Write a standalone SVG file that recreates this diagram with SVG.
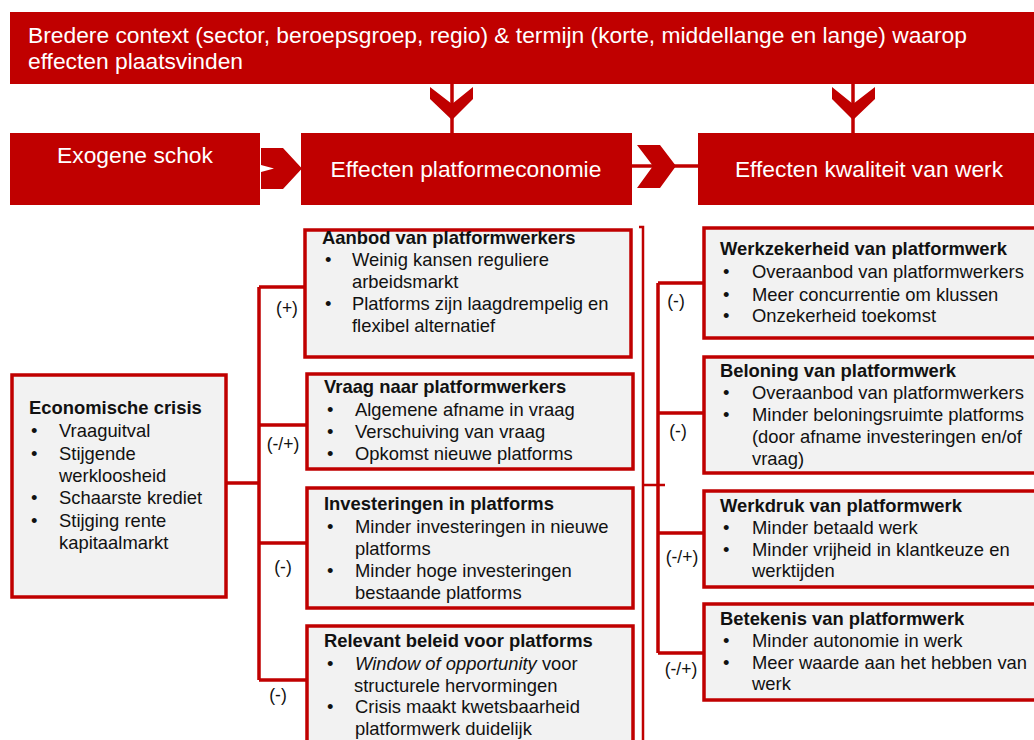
<svg xmlns="http://www.w3.org/2000/svg" width="1034" height="740" viewBox="0 0 1034 740">
  <style>
    .band { fill: #C00000; }
    .hd { font-family: "Liberation Sans", Arial, sans-serif; font-size: 22.8px; fill: #FFFFFF; }
    .box { fill: #F2F2F2; stroke: #C00000; stroke-width: 3.5; }
    .ttl { font-family: "Liberation Sans", Arial, sans-serif; font-size: 18.4px; font-weight: bold; fill: #111111; }
    .txt { font-family: "Liberation Sans", Arial, sans-serif; font-size: 18.4px; fill: #111111; }
    .lbl { font-family: "Liberation Sans", Arial, sans-serif; font-size: 17.5px; fill: #111111; text-anchor: middle; }
    .wire { fill: none; stroke: #C00000; stroke-width: 3.5; }
    .thin { fill: none; stroke: #C00000; stroke-width: 2.5; }
    .chev { fill: #C00000; }
  </style>

  <!-- context banner -->
  <g id="context">
    <rect class="band" x="10" y="12" width="1030" height="72"/>
    <text class="hd" x="28" y="43">Bredere context (sector, beroepsgroep, regio) &amp; termijn (korte, middellange en lange) waarop</text>
    <text class="hd" x="28" y="69">effecten plaatsvinden</text>
  </g>

  <!-- header row -->
  <g id="exogene-schok">
    <rect class="band" x="10" y="133" width="250" height="72"/>
    <text class="hd" x="135" y="163" text-anchor="middle">Exogene schok</text>
  </g>
  <g id="effecten-platformeconomie">
    <rect class="band" x="301" y="133" width="331" height="72"/>
    <text class="hd" x="466" y="177" text-anchor="middle">Effecten platformeconomie</text>
  </g>
  <g id="effecten-kwaliteit">
    <rect class="band" x="698" y="133" width="342" height="72"/>
    <text class="hd" x="869" y="177" text-anchor="middle">Effecten kwaliteit van werk</text>
  </g>

  <!-- connectors -->
  <g id="connectors">
    <!-- banner down into the header boxes -->
    <line class="wire" x1="452" y1="84" x2="452" y2="133" stroke-width="3"/>
    <polygon class="chev" points="430,87 452,104 473,87 473,99 452,120 430,99"/>
    <line class="wire" x1="853" y1="84" x2="853" y2="133" stroke-width="3"/>
    <polygon class="chev" points="832,87 853,104 875,87 875,99 853,120 832,99"/>

    <!-- header chevrons -->
    <polygon class="chev" points="261,148 283,148 302,168.5 283,189 261,189 261,172 274,168.5 261,165"/>
    <line class="wire" x1="632" y1="166" x2="698" y2="166" stroke-width="3"/>
    <polygon class="chev" points="637,145 660,145 676,166 660,188 637,188 653,166"/>

    <!-- crisis tree -->
    <path class="wire" d="M227,483 H259 M259,287 V680 M259,287 H305 M259,425 H307 M259,543 H307 M259,680 H307"/>
    <!-- bracket joining the middle column -->
    <path class="thin" d="M639,227 H643 V742 M643,485 H665"/>
    <!-- quality tree -->
    <path class="wire" d="M658,283 V653 M658,283 H704 M658,413 H704 M658,533 H704 M658,653 H704"/>

    <text class="lbl" x="287" y="314">(+)</text>
    <text class="lbl" x="283" y="450">(-/+)</text>
    <text class="lbl" x="283" y="573">(-)</text>
    <text class="lbl" x="278" y="701">(-)</text>
    <text class="lbl" x="676" y="307">(-)</text>
    <text class="lbl" x="678" y="437">(-)</text>
    <text class="lbl" x="682" y="563">(-/+)</text>
    <text class="lbl" x="681" y="675" font-size="19.5">(-/+)</text>
  </g>

  <!-- shock -->
  <g id="economische-crisis">
    <rect class="box" x="12" y="375" width="214" height="222"/>
    <text class="ttl" x="29" y="414">Economische crisis</text>
    <text class="txt" x="31" y="437">•</text><text class="txt" x="59" y="437">Vraaguitval</text>
    <text class="txt" x="31" y="459.5">•</text><text class="txt" x="59" y="459.5">Stijgende</text>
    <text class="txt" x="59" y="482">werkloosheid</text>
    <text class="txt" x="31" y="504">•</text><text class="txt" x="59" y="504">Schaarste krediet</text>
    <text class="txt" x="31" y="526.5">•</text><text class="txt" x="59" y="526.5">Stijging rente</text>
    <text class="txt" x="59" y="549">kapitaalmarkt</text>
  </g>

  <!-- platform economy effects -->
  <g id="aanbod">
    <rect class="box" x="305" y="230" width="326" height="127"/>
    <text class="ttl" x="322" y="244">Aanbod van platformwerkers</text>
    <text class="txt" x="325" y="266">•</text><text class="txt" x="352" y="266">Weinig kansen reguliere</text>
    <text class="txt" x="352" y="288">arbeidsmarkt</text>
    <text class="txt" x="325" y="310">•</text><text class="txt" x="352" y="310">Platforms zijn laagdrempelig en</text>
    <text class="txt" x="352" y="332">flexibel alternatief</text>
  </g>
  <g id="vraag">
    <rect class="box" x="307" y="374" width="326" height="95"/>
    <text class="ttl" x="324" y="393">Vraag naar platformwerkers</text>
    <text class="txt" x="327" y="416">•</text><text class="txt" x="355" y="416">Algemene afname in vraag</text>
    <text class="txt" x="327" y="438">•</text><text class="txt" x="355" y="438">Verschuiving van vraag</text>
    <text class="txt" x="327" y="460">•</text><text class="txt" x="355" y="460">Opkomst nieuwe platforms</text>
  </g>
  <g id="investeringen">
    <rect class="box" x="307" y="488" width="326" height="120"/>
    <text class="ttl" x="324" y="510">Investeringen in platforms</text>
    <text class="txt" x="327" y="533">•</text><text class="txt" x="355" y="533">Minder investeringen in nieuwe</text>
    <text class="txt" x="355" y="555">platforms</text>
    <text class="txt" x="327" y="577">•</text><text class="txt" x="355" y="577">Minder hoge investeringen</text>
    <text class="txt" x="355" y="599">bestaande platforms</text>
  </g>
  <g id="beleid">
    <rect class="box" x="307" y="626" width="326" height="130"/>
    <text class="ttl" x="324" y="647">Relevant beleid voor platforms</text>
    <text class="txt" x="327" y="670">•</text><text class="txt" x="355" y="670"><tspan font-style="italic">Window of opportunity</tspan> voor</text>
    <text class="txt" x="354" y="692">structurele hervormingen</text>
    <text class="txt" x="327" y="713">•</text><text class="txt" x="355" y="713">Crisis maakt kwetsbaarheid</text>
    <text class="txt" x="355" y="735">platformwerk duidelijk</text>
  </g>

  <!-- job quality effects -->
  <g id="werkzekerheid">
    <rect class="box" x="704" y="228" width="340" height="110"/>
    <text class="ttl" x="720" y="255">Werkzekerheid van platformwerk</text>
    <text class="txt" x="723" y="278">•</text><text class="txt" x="752" y="278">Overaanbod van platformwerkers</text>
    <text class="txt" x="723" y="301">•</text><text class="txt" x="752" y="301">Meer concurrentie om klussen</text>
    <text class="txt" x="723" y="322">•</text><text class="txt" x="752" y="322">Onzekerheid toekomst</text>
  </g>
  <g id="beloning">
    <rect class="box" x="704" y="357" width="340" height="116"/>
    <text class="ttl" x="720" y="377">Beloning van platformwerk</text>
    <text class="txt" x="723" y="399">•</text><text class="txt" x="752" y="399">Overaanbod van platformwerkers</text>
    <text class="txt" x="723" y="421">•</text><text class="txt" x="752" y="421">Minder beloningsruimte platforms</text>
    <text class="txt" x="752" y="443">(door afname investeringen en/of</text>
    <text class="txt" x="752" y="465">vraag)</text>
  </g>
  <g id="werkdruk">
    <rect class="box" x="704" y="491" width="340" height="96"/>
    <text class="ttl" x="720" y="512">Werkdruk van platformwerk</text>
    <text class="txt" x="723" y="534">•</text><text class="txt" x="752" y="534">Minder betaald werk</text>
    <text class="txt" x="723" y="556">•</text><text class="txt" x="752" y="556">Minder vrijheid in klantkeuze en</text>
    <text class="txt" x="752" y="577">werktijden</text>
  </g>
  <g id="betekenis">
    <rect class="box" x="704" y="604" width="340" height="96"/>
    <text class="ttl" x="720" y="625">Betekenis van platformwerk</text>
    <text class="txt" x="723" y="647">•</text><text class="txt" x="752" y="647">Minder autonomie in werk</text>
    <text class="txt" x="723" y="669">•</text><text class="txt" x="752" y="669">Meer waarde aan het hebben van</text>
    <text class="txt" x="752" y="690">werk</text>
  </g>
</svg>
